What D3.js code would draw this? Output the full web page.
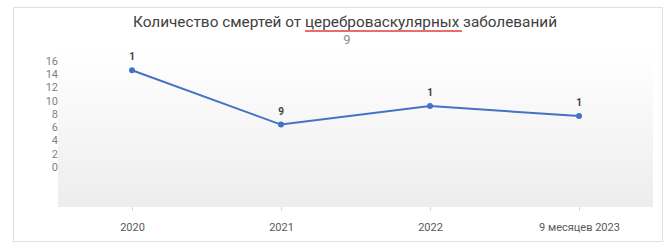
<!DOCTYPE html>
<html>
<head>
<meta charset="utf-8">
<script src="https://cdn.jsdelivr.net/npm/d3@7"></script>
<style>
  html, body { margin: 0; padding: 0; background: #fff; }
  svg { display: block; }
</style>
</head>
<body>
<div id="chart"></div>
<script>
const title = 'Количество смертей от цереброваскулярных заболеваний';
const subtitle = '9';
const categories = ['2020', '2021', '2022', '9 месяцев 2023'];
const values = [14.6, 6.4, 9.2, 7.7];
const pointLabels = ['1', '9', '1', '1'];
const yTicks = [0, 2, 4, 6, 8, 10, 12, 14, 16];

const width = 666, height = 246;

const svg = d3.select('#chart').append('svg')
  .attr('width', width)
  .attr('height', height);

const defs = svg.append('defs');
const grad = defs.append('linearGradient')
  .attr('id', 'plotGrad')
  .attr('x1', 0).attr('y1', 0).attr('x2', 0).attr('y2', 1);
grad.append('stop').attr('offset', '0%').attr('stop-color', '#ffffff');
grad.append('stop').attr('offset', '100%').attr('stop-color', '#ededed');

// outer frame
svg.append('rect')
  .attr('x', 13.5).attr('y', 7.5)
  .attr('width', 649).attr('height', 234)
  .attr('fill', '#fff')
  .attr('stroke', '#e0e0e0');

// plot area
const plot = { left: 58, right: 653, top: 50, bottom: 207 };
svg.append('rect')
  .attr('x', plot.left).attr('y', plot.top)
  .attr('width', plot.right - plot.left)
  .attr('height', plot.bottom - plot.top)
  .attr('fill', 'url(#plotGrad)');

const x = d3.scalePoint().domain(categories).range([132, 579]);
const y = d3.scaleLinear().domain([0, 16]).range([167, 61]);

// y labels
svg.append('g')
  .selectAll('text')
  .data(yTicks)
  .enter().append('text')
    .attr('x', 58)
    .attr('y', d => y(d))
    .attr('dy', '0.35em')
    .attr('text-anchor', 'end')
    .attr('font-family', 'Roboto, sans-serif')
    .attr('font-size', 11)
    .attr('fill', '#7f7f7f')
    .text(d => d);

// x axis ticks + labels
const xAxis = svg.append('g')
  .attr('transform', `translate(0,${plot.bottom})`)
  .call(d3.axisBottom(x).tickSize(4).tickPadding(12));
xAxis.select('.domain').remove();
xAxis.selectAll('.tick line').attr('stroke', '#d9d9d9');
xAxis.selectAll('.tick text')
  .attr('font-family', 'Roboto, sans-serif')
  .attr('font-size', 11)
  .attr('fill', '#595959');

// line
const line = d3.line()
  .x((d, i) => x(categories[i]))
  .y(d => y(d));

svg.append('path')
  .datum(values)
  .attr('d', line)
  .attr('fill', 'none')
  .attr('stroke', '#4472c4')
  .attr('stroke-width', 2);

svg.append('g')
  .selectAll('circle')
  .data(values)
  .enter().append('circle')
    .attr('cx', (d, i) => x(categories[i]))
    .attr('cy', d => y(d))
    .attr('r', 3)
    .attr('fill', '#4472c4');

svg.append('g')
  .selectAll('text')
  .data(values)
  .enter().append('text')
    .attr('x', (d, i) => x(categories[i]))
    .attr('y', d => y(d) - 10)
    .attr('text-anchor', 'middle')
    .attr('font-family', 'Roboto, sans-serif')
    .attr('font-size', 10)
    .attr('font-weight', 'bold')
    .attr('fill', '#404040')
    .text((d, i) => pointLabels[i]);

// title
svg.append('text')
  .attr('x', 345)
  .attr('y', 27)
  .attr('text-anchor', 'middle')
  .attr('font-family', 'Roboto, sans-serif')
  .attr('font-size', 14)
  .attr('fill', '#404040')
  .attr('textLength', 424)
  .attr('lengthAdjust', 'spacingAndGlyphs')
  .text(title);

// spell-check underline under the long word
svg.append('line')
  .attr('x1', 305).attr('x2', 462)
  .attr('y1', 31).attr('y2', 31)
  .attr('stroke', '#e03c3c')
  .attr('stroke-width', 1.5);

svg.append('text')
  .attr('x', 347)
  .attr('y', 44)
  .attr('text-anchor', 'middle')
  .attr('font-family', 'Roboto, sans-serif')
  .attr('font-size', 13)
  .attr('fill', '#8c8c8c')
  .text(subtitle);
</script>
</body>
</html>
